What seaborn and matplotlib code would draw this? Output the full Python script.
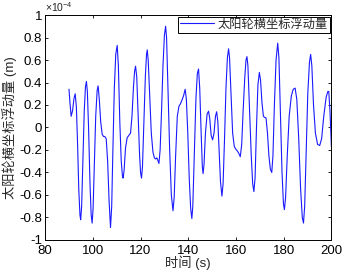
import numpy as np
import pandas as pd
import matplotlib
matplotlib.use('Agg')
import matplotlib.pyplot as plt
import seaborn as sns

# time (s) and floating displacement (units of 1e-4 m)
t = [90.0, 90.4, 90.9, 91.5, 92.1, 92.6, 93.1, 93.6, 94.1, 94.6, 94.9, 95.3, 95.8, 96.4, 96.9,
     97.3, 97.7, 98.2, 98.8, 99.3, 99.7, 100.1, 100.6, 101.2, 101.8, 102.2, 102.7, 103.3, 103.9,
     104.5, 105.0, 105.6, 106.2, 106.8, 107.4, 107.9, 108.4, 109.0, 109.6, 110.2, 110.7, 111.3,
     111.9, 112.4, 112.7, 113.1, 113.7, 114.4, 115.1, 115.8, 116.4, 117.0, 117.5, 117.9, 118.4,
     119.0, 119.6, 120.0, 120.4, 120.8, 121.4, 122.0, 122.5, 122.8, 123.2, 123.8, 124.5, 125.2,
     125.8, 126.3, 126.8, 127.2, 127.7, 128.2, 128.8, 129.4, 130.0, 130.5, 130.9, 131.5, 132.2,
     132.9, 133.6, 134.1, 134.7, 135.4, 136.1, 136.7, 137.3, 138.0, 138.7, 139.2, 139.8, 140.4,
     141.0, 141.5, 141.9, 142.5, 143.2, 143.8, 144.3, 144.8, 145.4, 145.9, 146.2, 146.6, 147.2,
     147.9, 148.5, 149.0, 149.6, 150.2, 150.8, 151.4, 151.9, 152.4, 152.9, 153.5, 154.1, 154.6,
     155.2, 155.8, 156.4, 156.9, 157.3, 157.9, 158.6, 159.3, 160.0, 160.6, 161.2, 161.8, 162.4,
     163.0, 163.7, 164.2, 164.6, 165.0, 165.7, 166.4, 167.0, 167.5, 168.0, 168.6, 169.2, 169.8,
     170.3, 170.9, 171.5, 172.0, 172.6, 173.2, 173.8, 174.4, 175.0, 175.5, 176.1, 176.8, 177.5,
     178.0, 178.6, 179.3, 179.9, 180.3, 180.8, 181.5, 182.3, 183.2, 184.0, 184.8, 185.5, 186.3,
     187.1, 187.8, 188.3, 188.8, 189.4, 190.1, 190.8, 191.3, 191.8, 192.5, 193.3, 194.2, 195.1,
     195.9, 196.8, 197.8, 198.5, 198.9, 199.4, 200.0]
disp = [0.34, 0.22, 0.10, 0.15, 0.26, 0.30, 0.18, -0.15, -0.55, -0.78, -0.82, -0.70, -0.30, 0.15, 0.36,
        0.41, 0.32, 0.00, -0.50, -0.78, -0.85, -0.72, -0.35, 0.10, 0.33, 0.37, 0.25, 0.05, -0.06,
        -0.08, -0.08, -0.10, -0.30, -0.65, -0.89, -0.70, -0.20, 0.35, 0.65, 0.73, 0.55, 0.05,
        -0.30, -0.43, -0.45, -0.38, -0.18, -0.09, -0.07, -0.05, 0.10, 0.35, 0.50, 0.545, 0.45,
        0.10, -0.25, -0.40, -0.45, -0.35, 0.05, 0.45, 0.65, 0.69, 0.60, 0.30, -0.05, -0.22,
        -0.27, -0.28, -0.27, -0.29, -0.32, -0.20, 0.15, 0.55, 0.82, 0.90, 0.80, 0.35, -0.20,
        -0.60, -0.74, -0.62, -0.25, 0.10, 0.19, 0.21, 0.24, 0.28, 0.34, 0.25, -0.05, -0.45,
        -0.72, -0.81, -0.70, -0.25, 0.25, 0.48, 0.52, 0.35, -0.05, -0.35, -0.41, -0.33, -0.05,
        0.12, 0.145, 0.08, -0.07, -0.11, -0.05, 0.10, 0.14, 0.05, -0.20, -0.48, -0.61, -0.50,
        -0.10, 0.35, 0.62, 0.70, 0.62, 0.30, -0.05, -0.17, -0.195, -0.21, -0.23, -0.26, -0.15,
        0.15, 0.45, 0.60, 0.63, 0.55, 0.15, -0.25, -0.50, -0.57, -0.45, 0.00, 0.38, 0.49,
        0.42, 0.22, 0.10, 0.09, 0.085, -0.05, -0.25, -0.37, -0.40, -0.25, 0.20, 0.60, 0.75,
        0.62, 0.15, -0.40, -0.68, -0.73, -0.62, -0.25, 0.10, 0.28, 0.34, 0.35, 0.25, -0.10,
        -0.55, -0.80, -0.85, -0.70, -0.25, 0.30, 0.58, 0.65, 0.55, 0.20, -0.05, -0.15, -0.16,
        -0.10, 0.10, 0.27, 0.32, 0.32, 0.15, -0.17]

x_ticks = [80, 100, 120, 140, 160, 180, 200]
y_ticks = [-1, -0.8, -0.6, -0.4, -0.2, 0, 0.2, 0.4, 0.6, 0.8, 1]
y_labels = ['-1', '-0.8', '-0.6', '-0.4', '-0.2', '0', '0.2', '0.4', '0.6', '0.8', '1']

sns.set_style('ticks')
plt.rcParams['font.family'] = ['Liberation Sans', 'Noto Sans CJK SC']
plt.rcParams['axes.unicode_minus'] = False
plt.rcParams['mathtext.fontset'] = 'custom'
plt.rcParams['mathtext.rm'] = 'Liberation Sans'

df = pd.DataFrame({'时间': t, '浮动量': disp})

fig = plt.figure(figsize=(3.42, 2.73), dpi=100)
ax = fig.add_axes([0.132, 0.121, 0.837, 0.824])
sns.lineplot(data=df, x='时间', y='浮动量', ax=ax, color='#1a1aff', lw=0.8,
             label='太阳轮横坐标浮动量', sort=False)

ax.set_xlim(80, 200)
ax.set_ylim(-1, 1)
ax.set_xticks(x_ticks)
ax.set_xticklabels([str(v) for v in x_ticks])
ax.set_yticks(y_ticks)
ax.set_yticklabels(y_labels)
ax.tick_params(direction='in', length=2.5, width=0.6, labelsize=9.5, pad=2,
               top=True, right=True, colors='black')
ax.tick_params(axis='x', pad=3.5)
for s in ax.spines.values():
    s.set_linewidth(0.7)
    s.set_color('black')

ax.set_xlabel('时间 (s)', fontsize=9.5, labelpad=-1)
ax.set_ylabel('太阳轮横坐标浮动量 (m)', fontsize=9.5, labelpad=2)
ax.text(0.0, 1.004, r'$\mathregular{\times10^{-4}}$', transform=ax.transAxes, fontsize=7.5,
        ha='left', va='bottom')

leg = ax.legend(loc='upper right', fontsize=8.8, frameon=True, fancybox=False,
                borderaxespad=0.15, borderpad=0.15, handlelength=2.8,
                handletextpad=0.3, framealpha=1)
leg.get_frame().set_edgecolor('black')
leg.get_frame().set_linewidth(0.7)

fig.savefig('out.png', dpi=100, facecolor='white')
